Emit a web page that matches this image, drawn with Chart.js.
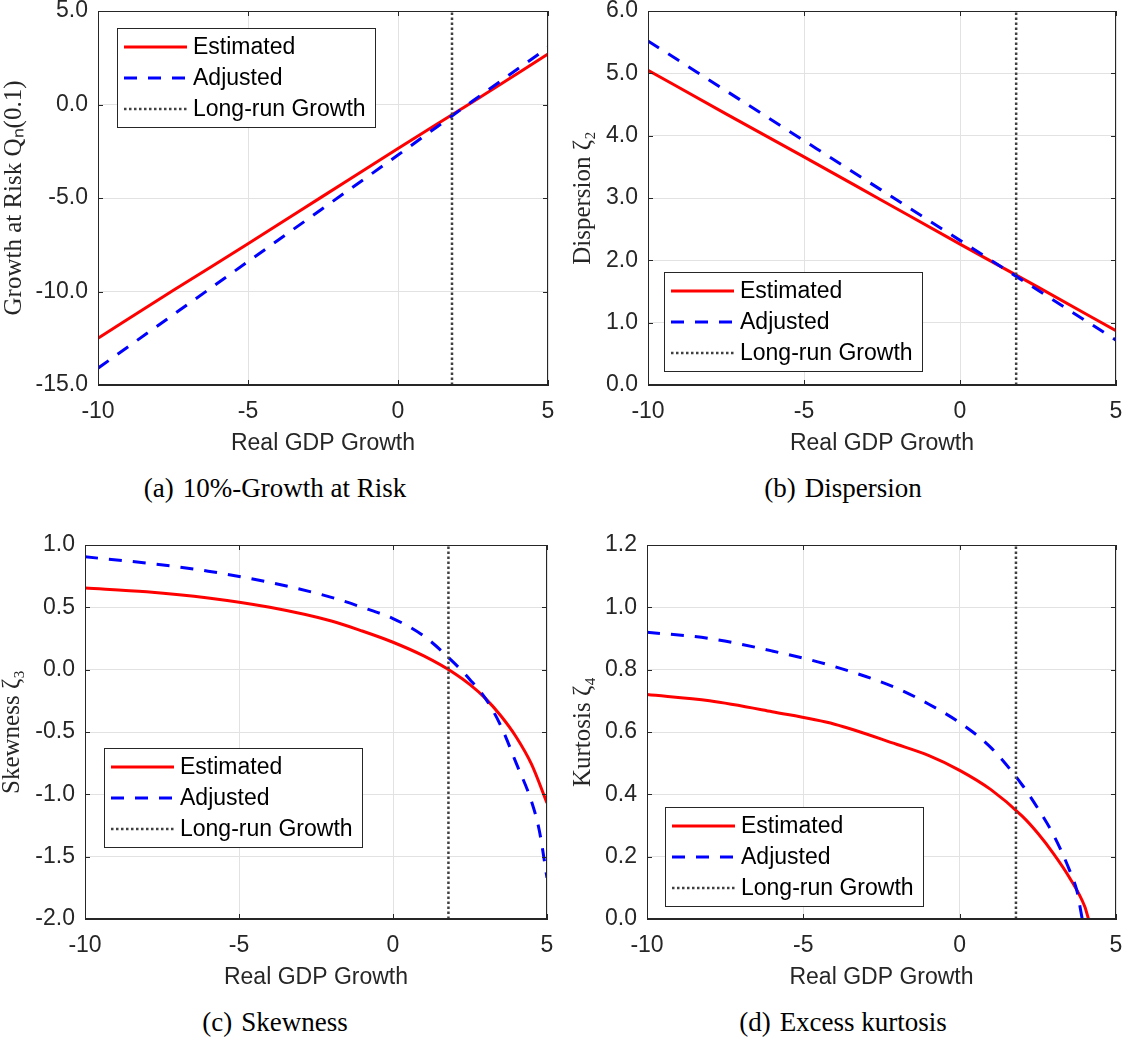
<!DOCTYPE html>
<html lang="en">
  <head>
    <meta charset="UTF-8" />
    <title>Growth at Risk and higher moments</title>
    <script src="https://cdn.jsdelivr.net/npm/chart.js"></script>
    <style>
      body {
        margin: 0;
        background: #fff;
      }
      #figure {
        position: relative;
        width: 1124px;
        height: 1037px;
      }
      #figure canvas {
        position: absolute;
      }
      .caption {
        position: absolute;
        width: 562px;
        text-align: center;
        font-family: "Liberation Serif", "Times New Roman", serif;
        font-size: 27px;
        line-height: 30px;
        color: #000;
      }
      .caption span {
        margin-right: 9px;
      }
    </style>
  </head>

  <body>
    <div id="figure">
      <canvas id="chartGar" width="562" height="470" style="left: 0; top: 0"></canvas>
      <canvas id="chartDisp" width="562" height="470" style="left: 562px; top: 0"></canvas>
      <canvas id="chartSkew" width="562" height="470" style="left: 0; top: 534px"></canvas>
      <canvas id="chartKurt" width="562" height="470" style="left: 562px; top: 534px"></canvas>

      <div class="caption" style="left: -6px; top: 473px"><span>(a)</span>10%-Growth at Risk</div>
      <div class="caption" style="left: 562px; top: 473px"><span>(b)</span>Dispersion</div>
      <div class="caption" style="left: -6px; top: 1007px"><span>(c)</span>Skewness</div>
      <div class="caption" style="left: 562px; top: 1007px"><span>(d)</span>Excess kurtosis</div>
    </div>

    <script>
      // Data
      const longRunGrowth = 1.8;

      // (a) Growth at Risk and (b) Dispersion: straight lines
      const gdpGrid = [-10, -7.5, -5, -2.5, 0, 2.5, 5];
      const garEstimated = [-12.5, -9.95, -7.45, -4.9, -2.35, 0.15, 2.7];
      const garAdjusted = [-14.1, -11.25, -8.4, -5.55, -2.7, 0.2, 3.05];
      const dispEstimated = [5.05, 4.35, 3.66, 2.96, 2.26, 1.57, 0.87];
      const dispAdjusted = [5.52, 4.72, 3.92, 3.12, 2.32, 1.52, 0.72];

      // (c) Skewness
      const skewEstX = [-10, -8, -6, -4, -2, -1, 0, 1, 2, 2.5, 3, 3.5, 4, 4.5, 5];
      const skewEstimated = [0.655, 0.625, 0.575, 0.5, 0.39, 0.31, 0.22, 0.11, -0.03, -0.12, -0.23, -0.37, -0.54, -0.76, -1.07];
      const skewAdjX = [-10, -8, -6, -4, -2, -1, 0, 1, 2, 2.5, 3, 3.5, 4, 4.5, 4.75, 5];
      const skewAdjusted = [0.905, 0.855, 0.79, 0.7, 0.58, 0.5, 0.41, 0.27, 0.05, -0.08, -0.23, -0.45, -0.75, -1.06, -1.29, -1.67];

      // (d) Excess kurtosis
      const kurtEstX = [-10, -8, -6, -4, -2, -1, 0, 1, 2, 2.5, 3, 3.5, 4, 4.12];
      const kurtEstimated = [0.72, 0.7, 0.665, 0.625, 0.56, 0.525, 0.477, 0.415, 0.33, 0.275, 0.21, 0.135, 0.04, 0];
      const kurtAdjX = [-10, -8, -6, -4, -2, -1, 0, 1, 2, 2.5, 3, 3.5, 3.75, 3.92];
      const kurtAdjusted = [0.92, 0.9, 0.86, 0.81, 0.74, 0.69, 0.63, 0.55, 0.43, 0.355, 0.27, 0.16, 0.09, 0];

      const sansFont = "'Liberation Sans', Arial, Helvetica, sans-serif";
      const serifFont = "'Liberation Serif', 'Times New Roman', serif";
      const axisColor = "#262626";

      Chart.defaults.font.family = sansFont;

      function points(xs, ys) {
        return xs.map((x, i) => ({ x: x, y: ys[i] }));
      }

      // Keep tick labels from pushing the plot area around
      function noPadding(s) {
        s.paddingTop = 0;
        s.paddingBottom = 0;
        s.paddingLeft = 0;
        s.paddingRight = 0;
      }

      // MATLAB look: closed box, inward ticks and a legend inside the axes
      const matlabAxes = {
        id: "matlabAxes",
        afterDraw(chart, args, opts) {
          const ctx = chart.ctx;
          const area = chart.chartArea;
          const xs = chart.scales.x;
          const ys = chart.scales.y;
          ctx.save();
          ctx.strokeStyle = axisColor;
          ctx.lineWidth = 1;
          ctx.beginPath();
          xs.ticks.forEach((t) => {
            const px = Math.round(xs.getPixelForValue(t.value)) + 0.5;
            ctx.moveTo(px, area.bottom);
            ctx.lineTo(px, area.bottom - 5);
            ctx.moveTo(px, area.top);
            ctx.lineTo(px, area.top + 5);
          });
          ys.ticks.forEach((t) => {
            const py = Math.round(ys.getPixelForValue(t.value)) + 0.5;
            ctx.moveTo(area.left, py);
            ctx.lineTo(area.left + 5, py);
            ctx.moveTo(area.right, py);
            ctx.lineTo(area.right - 5, py);
          });
          ctx.stroke();
          ctx.strokeRect(
            Math.round(area.left) + 0.5,
            Math.round(area.top) + 0.5,
            Math.round(area.width) - 1,
            Math.round(area.height) - 1
          );

          // Legend box
          const w = 258;
          const h = 99;
          const bx = Math.round(area.left + opts.left);
          const by =
            opts.top !== undefined
              ? Math.round(area.top + opts.top)
              : Math.round(area.bottom - opts.bottom - h);
          ctx.fillStyle = "#fff";
          ctx.fillRect(bx, by, w, h);
          ctx.strokeRect(bx + 0.5, by + 0.5, w, h);
          chart.data.datasets.forEach((ds, i) => {
            const rowY = by + 19 + i * 31;
            ctx.save();
            ctx.strokeStyle = ds.borderColor;
            ctx.lineWidth = ds.borderWidth;
            ctx.setLineDash(ds.borderDash || []);
            ctx.beginPath();
            ctx.moveTo(bx + 7, rowY);
            ctx.lineTo(bx + 70, rowY);
            ctx.stroke();
            ctx.restore();
            ctx.fillStyle = "#000";
            ctx.font = "23px " + sansFont;
            ctx.textBaseline = "middle";
            ctx.textAlign = "left";
            ctx.fillText(ds.label, bx + 76, rowY + 1);
          });
          ctx.restore();
        },
      };

      function makeChart(id, p) {
        const datasets = [
          {
            label: "Estimated",
            data: p.estimated,
            borderColor: "#ff0000",
            borderWidth: 3,
            cubicInterpolationMode: "monotone",
            order: 3,
          },
          {
            label: "Adjusted",
            data: p.adjusted,
            borderColor: "#0000ff",
            borderWidth: 3,
            borderDash: [13, 11],
            cubicInterpolationMode: "monotone",
            order: 2,
          },
          {
            label: "Long-run Growth",
            data: [
              { x: longRunGrowth, y: p.yMin },
              { x: longRunGrowth, y: p.yMax },
            ],
            borderColor: "#404040",
            borderWidth: 2.5,
            borderDash: [2.5, 2.5],
            order: 1,
          },
        ];

        return new Chart(document.getElementById(id), {
          type: "line",
          data: { datasets: datasets },
          plugins: [matlabAxes],
          options: {
            responsive: false,
            animation: false,
            events: [],
            elements: { point: { radius: 0 } },
            layout: { padding: { top: 11, right: p.padRight, left: 0, bottom: 0 } },
            plugins: {
              legend: { display: false },
              tooltip: { enabled: false },
              matlabAxes: p.legend,
            },
            scales: {
              x: {
                type: "linear",
                min: -10,
                max: 5,
                ticks: {
                  stepSize: 5,
                  padding: 13,
                  color: axisColor,
                  font: { size: 23 },
                  maxRotation: 0,
                  autoSkip: false,
                  callback: (v) => String(v),
                },
                grid: { color: "#e2e2e2", drawTicks: false },
                border: { color: axisColor },
                title: {
                  display: true,
                  text: "Real GDP Growth",
                  color: axisColor,
                  font: { size: 23 },
                  padding: { top: 0, bottom: 13 },
                },
                afterFit: (s) => {
                  s.height = 85;
                  noPadding(s);
                },
              },
              y: {
                type: "linear",
                min: p.yMin,
                max: p.yMax,
                ticks: {
                  stepSize: p.yStep,
                  padding: 10,
                  color: axisColor,
                  font: { size: 23 },
                  autoSkip: false,
                  callback: (v) => v.toFixed(1),
                },
                grid: { color: "#e2e2e2", drawTicks: false },
                border: { color: axisColor },
                title: {
                  display: true,
                  text: p.yTitle,
                  color: axisColor,
                  font: { family: serifFont, size: 25, lineHeight: 1 },
                  padding: { top: p.titlePad, bottom: 0 },
                },
                afterFit: (s) => {
                  s.width = p.yWidth;
                  noPadding(s);
                },
              },
            },
          },
        });
      }

      makeChart("chartGar", {
        estimated: points(gdpGrid, garEstimated),
        adjusted: points(gdpGrid, garAdjusted),
        yMin: -15,
        yMax: 5,
        yStep: 5,
        yTitle: "Growth at Risk Qₙ(0.1)",
        yWidth: 98,
        titlePad: 2,
        padRight: 14,
        legend: { left: 19, top: 17 },
      });

      makeChart("chartDisp", {
        estimated: points(gdpGrid, dispEstimated),
        adjusted: points(gdpGrid, dispAdjusted),
        yMin: 0,
        yMax: 6,
        yStep: 1,
        yTitle: "Dispersion ζ₂",
        yWidth: 86,
        titlePad: 9,
        padRight: 8,
        legend: { left: 16, bottom: 14 },
      });

      makeChart("chartSkew", {
        estimated: points(skewEstX, skewEstimated),
        adjusted: points(skewAdjX, skewAdjusted),
        yMin: -2,
        yMax: 1,
        yStep: 0.5,
        yTitle: "Skewness ζ₃",
        yWidth: 85,
        titlePad: 0,
        padRight: 15,
        legend: { left: 19, bottom: 72 },
      });

      makeChart("chartKurt", {
        estimated: points(kurtEstX, kurtEstimated),
        adjusted: points(kurtAdjX, kurtAdjusted),
        yMin: 0,
        yMax: 1.2,
        yStep: 0.2,
        yTitle: "Kurtosis ζ₄",
        yWidth: 85,
        titlePad: 9,
        padRight: 8,
        legend: { left: 18, bottom: 13 },
      });
    </script>
  </body>
</html>
